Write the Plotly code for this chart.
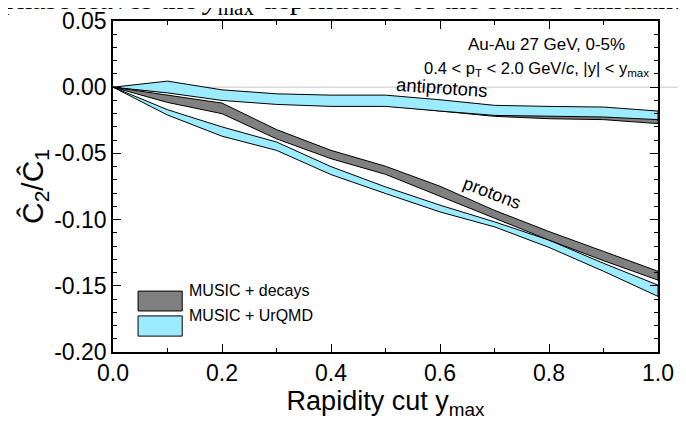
import plotly.graph_objects as go

# rapidity cut values
y_max = [0.0, 0.1, 0.2, 0.3, 0.4, 0.5, 0.6, 0.7, 0.8, 0.9, 1.0]

# protons, MUSIC + decays (band edges)
p_dec_hi = [0.0, -0.006, -0.012, -0.032, -0.0477, -0.0597, -0.0748, -0.093, -0.109, -0.124, -0.139]
p_dec_lo = [0.0, -0.0115, -0.020, -0.039, -0.054, -0.0658, -0.082, -0.099, -0.1155, -0.131, -0.1457]

# protons, MUSIC + UrQMD
p_urq_hi = [0.0, -0.017, -0.030, -0.0414, -0.060, -0.0753, -0.0891, -0.1017, -0.1155, -0.133, -0.1495]
p_urq_lo = [0.0, -0.021, -0.037, -0.0477, -0.066, -0.0803, -0.0942, -0.1055, -0.121, -0.139, -0.158]

# antiprotons, MUSIC + decays
ap_dec_hi = [0.0, -0.001, -0.004, -0.006, -0.007, -0.007, -0.011, -0.015, -0.016, -0.017, -0.020]
ap_dec_lo = [0.0, -0.004, -0.009, -0.012, -0.013, -0.014, -0.018, -0.022, -0.0238, -0.0245, -0.0275]

# antiprotons, MUSIC + UrQMD
ap_urq_hi = [0.0, 0.0046, -0.002, -0.005, -0.006, -0.006, -0.0095, -0.0137, -0.0145, -0.015, -0.018]
ap_urq_lo = [0.0, -0.0043, -0.010, -0.013, -0.0145, -0.0145, -0.018, -0.0213, -0.022, -0.0225, -0.0245]

GRAY = "#808080"
CYAN = "#9CEBFF"
FONT = "Liberation Sans"


def band(hi, lo, color):
    return go.Scatter(
        x=y_max + y_max[::-1],
        y=hi + lo[::-1],
        mode="lines",
        fill="toself",
        fillcolor=color,
        line=dict(color="black", width=1),
        showlegend=False,
        hoverinfo="skip",
    )


fig = go.Figure()
fig.add_trace(band(ap_dec_hi, ap_dec_lo, GRAY))
fig.add_trace(band(ap_urq_hi, ap_urq_lo, CYAN))
fig.add_trace(band(p_urq_hi, p_urq_lo, CYAN))
fig.add_trace(band(p_dec_hi, p_dec_lo, GRAY))

# zero line running out past the frame
fig.add_shape(type="line", xref="paper", yref="y", x0=0, x1=1.06, y0=0, y1=0,
              line=dict(color="#c8c8c8", width=1), layer="below")

# hand-drawn legend
fig.add_shape(type="rect", xref="paper", yref="paper", x0=0.046, x1=0.127, y0=0.124, y1=0.184,
              fillcolor=GRAY, line=dict(color="black", width=1))
fig.add_shape(type="rect", xref="paper", yref="paper", x0=0.046, x1=0.127, y0=0.048, y1=0.109,
              fillcolor=CYAN, line=dict(color="black", width=1))
fig.add_annotation(x=0.136, y=0.154, xref="paper", yref="paper", text="MUSIC + decays",
                   showarrow=False, xanchor="left", font=dict(size=16))
fig.add_annotation(x=0.136, y=0.079, xref="paper", yref="paper", text="MUSIC + UrQMD",
                   showarrow=False, xanchor="left", font=dict(size=16))

fig.add_annotation(x=0.943, y=0.963, xref="paper", yref="paper", text="Au-Au 27 GeV, 0-5%",
                   showarrow=False, xanchor="right", font=dict(size=17))
fig.add_annotation(x=0.988, y=0.89, xref="paper", yref="paper",
                   text="0.4 < p<sub>T</sub> < 2.0 GeV/<i>c</i>, |y| < y<sub>max</sub>",
                   showarrow=False, xanchor="right", font=dict(size=16.5))
fig.add_annotation(x=0.604, y=-0.0005, text="antiprotons", showarrow=False, textangle=4,
                   font=dict(size=18.5))
fig.add_annotation(x=0.695, y=-0.080, text="protons", showarrow=False, textangle=21,
                   font=dict(size=18))

# cropped line of paper text above the figure
fig.add_annotation(x=0.43, y=0.997, xref="paper", yref="paper",
                   text="phase leaves the <i>y</i><sub>max</sub> dependence of the scaled cumulants",
                   showarrow=False, yanchor="bottom", xanchor="center",
                   font=dict(family="Liberation Serif", size=30))

fig.update_xaxes(
    range=[0, 1.0], tickvals=[0, 0.2, 0.4, 0.6, 0.8, 1.0], ticktext=["0.0", "0.2", "0.4", "0.6", "0.8", "1.0"],
    ticks="inside", ticklen=8, tickwidth=1, tickcolor="black",
    minor=dict(dtick=0.1, ticks="inside", ticklen=4, tickcolor="black"),
    showline=True, linecolor="black", linewidth=1.5, mirror="ticks", showgrid=False, zeroline=False,
    tickfont=dict(size=23), automargin=False,
    title=dict(text="Rapidity cut y<sub>max</sub>", font=dict(size=27), standoff=1),
)
fig.update_yaxes(
    range=[-0.2, 0.05], tickvals=[-0.2, -0.15, -0.1, -0.05, 0.0, 0.05],
    ticktext=["-0.20", "-0.15", "-0.10", "-0.05", "0.00", "0.05"],
    ticks="inside", ticklen=8, tickwidth=1, tickcolor="black",
    minor=dict(dtick=0.01, ticks="inside", ticklen=4, tickcolor="black"),
    showline=True, linecolor="black", linewidth=1.5, mirror="ticks", showgrid=False, zeroline=False,
    tickfont=dict(size=23), automargin=False,
    title=dict(text="C\u0302<sub>2</sub>/C\u0302<sub>1</sub>", font=dict(size=30), standoff=2),
)

# page body adds an 8px margin, so the figure is shrunk by that much
fig.update_layout(
    width=678, height=413,
    margin=dict(l=105, r=28, t=13, b=69),
    plot_bgcolor="white", paper_bgcolor="white",
    font=dict(family=FONT, color="black"),
    showlegend=False,
)

fig.write_html("out.html")
